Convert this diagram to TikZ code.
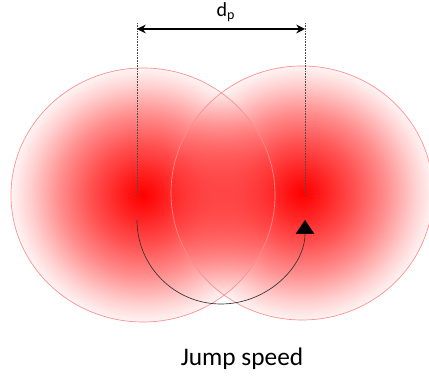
\documentclass[tikz,border=0pt]{standalone}
\usepackage{fontspec}
\setmainfont{Carlito}
\usepackage{tikz}
\usetikzlibrary{arrows.meta,fadings}
% radial fading, opaque in the middle, almost gone at the rim (rim = 25bp)
\pgfdeclareradialshading{glowshade}{\pgfpointorigin}{%
  color(0bp)=(white); color(2.5bp)=(white!93!black); color(5bp)=(white!85!black);
  color(10bp)=(white!68!black); color(15.75bp)=(white!45!black);
  color(21.5bp)=(white!18!black); color(25bp)=(white!4!black); color(50bp)=(white!4!black)}
\pgfdeclarefading{glowfade}{\pgfuseshading{glowshade}}
\tikzset{
  blob/.style={fill=red, path fading=glowfade, fit fading=true},
  rim/.style={draw=red!45, line width=0.5pt},
  guide/.style={line width=0.3pt, black!70, dash pattern=on 1.2pt off 0.8pt},
  dimline/.style={line width=1.4pt, {Stealth[length=6.5pt,width=6.5pt]}-{Stealth[length=6.5pt,width=6.5pt]}},
  jumparc/.style={line width=0.5pt, black!80, -{Triangle[length=10.5pt,width=14pt,black]}},
  lbl/.style={font=\fontsize{15}{18}\selectfont, inner sep=0pt},
  capt/.style={font=\fontsize{19}{22}\selectfont, inner sep=0pt},
}

\begin{document}
\begin{tikzpicture}[x=0.75pt, y=0.75pt]
    \useasboundingbox (0,0) rectangle (429,378);
    % pheromone clouds
    \coordinate (left) at (143,183);
    \coordinate (right) at (302,185);
    \fill[blob] (left) ellipse [x radius=132, y radius=127];
    \fill[blob] (right) ellipse [x radius=131, y radius=127];
    \draw[rim] (left) ellipse [x radius=132, y radius=127];
    \draw[rim] (right) ellipse [x radius=131, y radius=127];
    % distance between the two points
    \coordinate (lp) at (137,183);
    \coordinate (rp) at (305,183);
    \coordinate (lptop) at (137,355);
    \coordinate (rptop) at (305,355);
    \coordinate (ldim) at (137,349);
    \coordinate (rdim) at (305,349);
    \draw[guide] (lp) -- (lptop);
    \draw[guide] (rp) -- (rptop);
    \draw[dimline] (ldim) -- (rdim);
    \node[lbl, anchor=base] (dp) at (226,361) {d\textsubscript{p}};
    % jump
    \coordinate (jumpfrom) at (137,158);
    \draw[jumparc] (jumpfrom) arc[start angle=180, end angle=360, radius=84];
    \node[capt, anchor=base] (caption) at (242,12) {Jump speed};
\end{tikzpicture}
\end{document}
